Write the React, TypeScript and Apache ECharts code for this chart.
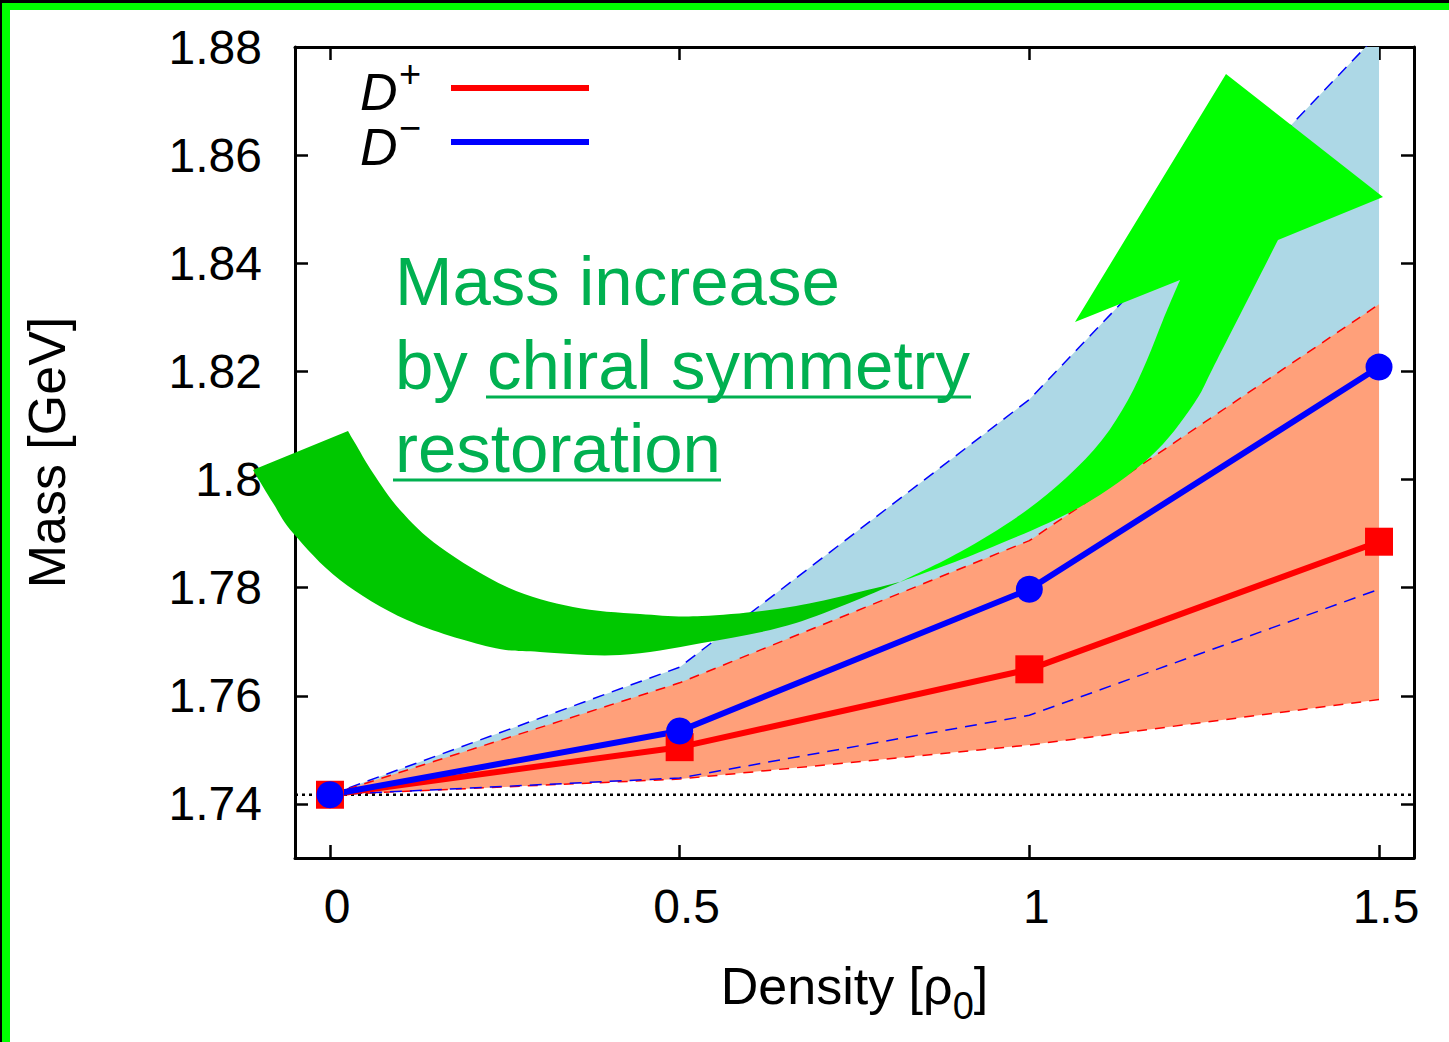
import React, { useEffect, useRef } from 'react';
import * as echarts from 'echarts';

// ---- data ----
const density = [0, 0.5, 1, 1.5];
const dPlusMass = [1.7417, 1.7505, 1.7649, 1.7885];
const dMinusMass = [1.7417, 1.7535, 1.7797, 1.8208];
const dPlusUpper = [1.7417, 1.7624, 1.7887, 1.8324];
const dPlusLower = [1.7417, 1.7446, 1.7509, 1.7593];
const dMinusUpper = [1.7417, 1.7653, 1.8148, 1.8826];
const dMinusLower = [1.7417, 1.7448, 1.7564, 1.7797];
const vacuumMass = 1.7417;
const xTicks = [0, 0.5, 1, 1.5];
const yTicks = [1.74, 1.76, 1.78, 1.8, 1.82, 1.84, 1.86, 1.88];
const xRange = [-0.05, 1.55];
const yRange = [1.73, 1.88];
const seriesNames = ['D+', 'D−'];
const noteLines = ['Mass increase', 'by chiral symmetry', 'restoration'];

// ---- annotation arrow outline (page pixels) ----
const arrowBackUpper = [[348, 431], [355, 443], [373, 473], [400, 510], [440, 547], [507, 587], [573, 607], [640, 614], [702, 616], [796, 606], [900, 582]];
const arrowBackLower = [[900, 582], [796, 623], [702, 643], [620, 655], [540, 652], [490, 647], [407, 620], [340, 580], [293, 533], [273, 503], [253, 470]];
const arrowFrontRight = [[900, 582], [985, 550], [1080, 507], [1150, 457], [1193, 405], [1217, 360], [1278, 240]];
const arrowFrontLeft = [[1180, 280], [1163, 320], [1147, 360], [1128, 400], [1102, 440], [1066, 478], [1020, 515], [960, 552], [900, 582]];

const FONT = 'Liberation Sans';

function smooth(points: number[][]): string {
  let d = '';
  for (let i = 0; i < points.length - 1; i++) {
    const p0 = points[i - 1] || points[i];
    const p1 = points[i];
    const p2 = points[i + 1];
    const p3 = points[i + 2] || p2;
    const c1x = p1[0] + (p2[0] - p0[0]) / 6;
    const c1y = p1[1] + (p2[1] - p0[1]) / 6;
    const c2x = p2[0] - (p3[0] - p1[0]) / 6;
    const c2y = p2[1] - (p3[1] - p1[1]) / 6;
    d += ` C${c1x.toFixed(2)} ${c1y.toFixed(2)} ${c2x.toFixed(2)} ${c2y.toFixed(2)} ${p2[0]} ${p2[1]}`;
  }
  return d;
}

const pts = (ys: number[]) => density.map((x, i) => [x, ys[i]]);
const bandData = (up: number[], lo: number[]) => density.map((x, i) => [x, up[i], lo[i]]);

function bandRenderer(fill: string) {
  return (params: any, api: any) => {
    if (params.dataIndex !== 0) return null;
    const n = params.dataInsideLength;
    const upper: number[][] = [];
    const lower: number[][] = [];
    for (let i = 0; i < n; i++) {
      upper.push(api.coord([api.value(0, i), api.value(1, i)]));
      lower.push(api.coord([api.value(0, i), api.value(2, i)]));
    }
    const cs = params.coordSys;
    return {
      type: 'polygon',
      shape: { points: upper.concat(lower.reverse()) },
      style: { fill },
      clipPath: { type: 'rect', shape: { x: cs.x, y: cs.y, width: cs.width, height: cs.height } },
    };
  };
}

export default function App() {
  const ref = useRef<HTMLDivElement>(null);

  useEffect(() => {
    if (!ref.current) return;

    const backD = `M253 470 L348 431${smooth(arrowBackUpper)}${smooth(arrowBackLower)} Z`;
    const frontD = `M900 582${smooth(arrowFrontRight)} L1383 197 L1226 74 L1075 322 L1180 280${smooth(arrowFrontLeft)} Z`;
    echarts.graphic.registerShape('arrowBack', echarts.graphic.extendPath(backD, {}) as any);
    echarts.graphic.registerShape('arrowFront', echarts.graphic.extendPath(frontD, {}) as any);

    const chart = echarts.init(ref.current, null, { renderer: 'svg' });

    const axisLine = { show: true, onZero: false, lineStyle: { color: '#000', width: 3 } };
    const tickStyle = { color: '#000', width: 2.5 };
    const dashedBlue = { color: '#0000ff', width: 1.5, type: [12, 8] };
    const dashedRed = { color: '#ff0000', width: 1.5, type: [10, 8] };
    const quiet = { silent: true, emphasis: { disabled: true } };
    const legendLabel = (x: number, y: number, text: string, size: number, italic: boolean) => ({
      type: 'text', z: 101, silent: true, x, y,
      style: { text, fontSize: size, fontStyle: italic ? 'italic' : 'normal', fontFamily: FONT, fill: '#000', verticalAlign: 'middle', align: 'left' },
    });

    const option: any = {
      animation: false,
      backgroundColor: '#ffffff',
      grid: { left: 295, top: 47, right: 35, bottom: 184, outerBoundsMode: 'none' },
      legend: {
        data: seriesNames,
        orient: 'vertical',
        left: 451,
        top: 85,
        align: 'left',
        icon: 'rect',
        itemWidth: 138,
        itemHeight: 6,
        itemGap: 48,
        padding: 0,
        selectedMode: false,
        formatter: () => '',
        textStyle: { fontSize: 6, lineHeight: 6 },
      },
      xAxis: [
        {
          type: 'value',
          min: xRange[0],
          max: xRange[1],
          position: 'bottom',
          name: '{a|Density [ρ}{b|0}{a|]}',
          nameLocation: 'middle',
          nameGap: 102,
          nameTextStyle: {
            rich: {
              a: { fontSize: 52, fontFamily: FONT, color: '#000', lineHeight: 52 },
              b: { fontSize: 38, fontFamily: FONT, color: '#000', lineHeight: 12, height: 12, verticalAlign: 'bottom' },
            },
          },
          axisLine,
          axisTick: { show: true, inside: true, length: 13, customValues: xTicks, lineStyle: tickStyle },
          axisLabel: { show: true, customValues: xTicks, margin: 24, fontSize: 48, fontFamily: FONT, color: '#000', padding: [0, 0, 0, 14] },
          splitLine: { show: false },
        },
        {
          type: 'value',
          min: xRange[0],
          max: xRange[1],
          position: 'top',
          axisLine,
          axisTick: { show: true, inside: true, length: 13, customValues: xTicks, lineStyle: tickStyle },
          axisLabel: { show: false },
          splitLine: { show: false },
        },
      ],
      yAxis: [
        {
          type: 'value',
          min: yRange[0],
          max: yRange[1],
          position: 'left',
          name: 'Mass [GeV]',
          nameLocation: 'middle',
          nameGap: 222,
          nameTextStyle: { fontSize: 52, fontFamily: FONT, color: '#000' },
          axisLine,
          axisTick: { show: true, inside: true, length: 13, customValues: yTicks, lineStyle: tickStyle },
          axisLabel: { show: true, customValues: yTicks, margin: 33, fontSize: 48, fontFamily: FONT, color: '#000' },
          splitLine: { show: false },
        },
        {
          type: 'value',
          min: yRange[0],
          max: yRange[1],
          position: 'right',
          axisLine,
          axisTick: { show: true, inside: true, length: 13, customValues: yTicks, lineStyle: tickStyle },
          axisLabel: { show: false },
          splitLine: { show: false },
        },
      ],
      series: [
        {
          name: 'minusBand', type: 'custom', data: bandData(dMinusUpper, dMinusLower),
          encode: { x: 0, y: [1, 2] }, renderItem: bandRenderer('#add8e6'), clip: true, ...quiet,
        },
        { name: 'minusUpper', type: 'line', data: pts(dMinusUpper), symbol: 'none', lineStyle: dashedBlue, ...quiet },
        {
          name: 'plusBand', type: 'custom', data: bandData(dPlusUpper, dPlusLower),
          encode: { x: 0, y: [1, 2] }, renderItem: bandRenderer('#ffa07a'), clip: true, ...quiet,
        },
        { name: 'plusUpper', type: 'line', data: pts(dPlusUpper), symbol: 'none', lineStyle: dashedRed, ...quiet },
        { name: 'plusLower', type: 'line', data: pts(dPlusLower), symbol: 'none', lineStyle: dashedRed, ...quiet },
        { name: 'minusLower', type: 'line', data: pts(dMinusLower), symbol: 'none', lineStyle: dashedBlue, ...quiet },
        {
          name: 'vacuum', type: 'line', data: [[xRange[0], vacuumMass], [xRange[1], vacuumMass]], symbol: 'none',
          lineStyle: { color: '#000', width: 2.5, type: [3, 4] }, ...quiet,
        },
        {
          name: seriesNames[0], type: 'line', data: pts(dPlusMass), symbol: 'rect', symbolSize: 28,
          lineStyle: { color: '#ff0000', width: 6 }, itemStyle: { color: '#ff0000' }, emphasis: { disabled: true },
        },
        {
          name: seriesNames[1], type: 'line', data: pts(dMinusMass), symbol: 'circle', symbolSize: 27,
          lineStyle: { color: '#0000ff', width: 6 }, itemStyle: { color: '#0000ff' }, emphasis: { disabled: true },
        },
      ],
      graphic: {
        elements: [
          { type: 'rect', z: 100, silent: true, shape: { x: 0, y: 0, width: 1449, height: 3 }, style: { fill: '#000' } },
          { type: 'rect', z: 100, silent: true, shape: { x: 0, y: 0, width: 2, height: 1042 }, style: { fill: '#000' } },
          { type: 'rect', z: 100, silent: true, shape: { x: 2, y: 3, width: 1447, height: 7 }, style: { fill: '#00ff00' } },
          { type: 'rect', z: 100, silent: true, shape: { x: 2, y: 3, width: 8, height: 1039 }, style: { fill: '#00ff00' } },
          legendLabel(360, 91.5, 'D', 52, true),
          legendLabel(399, 74, seriesNames[0].slice(1), 38, false),
          legendLabel(360, 146.5, 'D', 52, true),
          legendLabel(399, 128, seriesNames[1].slice(1), 38, false),
          { type: 'arrowBack', z: 100, silent: true, x: 0, y: 0, style: { fill: '#00c800' } },
          { type: 'arrowFront', z: 100, silent: true, x: 0, y: 0, style: { fill: '#00ff00' } },
          {
            type: 'text', z: 101, silent: true, x: 395, y: 281,
            style: { text: noteLines[0], fontSize: 69, fontFamily: FONT, fill: '#00b050', verticalAlign: 'middle', align: 'left' },
          },
          {
            type: 'text', z: 101, silent: true, x: 395, y: 365,
            style: { text: noteLines[1], fontSize: 69, fontFamily: FONT, fill: '#00b050', verticalAlign: 'middle', align: 'left' },
          },
          {
            type: 'text', z: 101, silent: true, x: 395, y: 448,
            style: { text: noteLines[2], fontSize: 69, fontFamily: FONT, fill: '#00b050', verticalAlign: 'middle', align: 'left' },
          },
          { type: 'line', z: 101, silent: true, shape: { x1: 486, y1: 397, x2: 971, y2: 397 }, style: { stroke: '#00b050', lineWidth: 3 } },
          { type: 'line', z: 101, silent: true, shape: { x1: 393, y1: 480, x2: 721, y2: 480 }, style: { stroke: '#00b050', lineWidth: 3 } },
        ],
      },
    };

    chart.setOption(option);
    return () => chart.dispose();
  }, []);

  return (
    <div
      ref={ref}
      style={{ position: 'fixed', left: 0, top: 0, width: 1449, height: 1042, background: '#ffffff' }}
    />
  );
}
